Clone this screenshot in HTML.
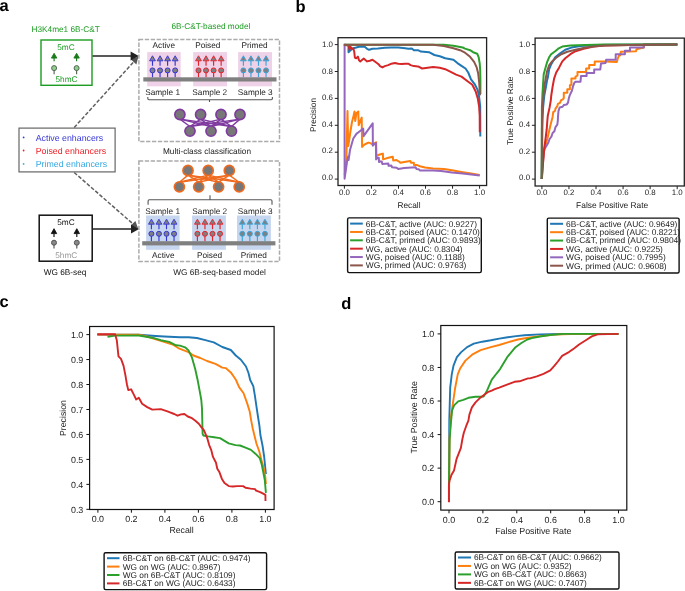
<!DOCTYPE html>
<html><head><meta charset="utf-8"><title>Figure</title>
<style>
html,body{margin:0;padding:0;background:#fff;}
body{width:685px;height:591px;overflow:hidden;font-family:"Liberation Sans",sans-serif;}
svg{display:block;font-family:"Liberation Sans",sans-serif;opacity:0.999;will-change:transform;}
text{text-rendering:geometricPrecision;}
</style></head><body>
<svg width="685" height="591" viewBox="0 0 685 591">
<text x="-0.5" y="10.6" font-size="16.5" fill="#000" text-anchor="start" font-weight="bold" >a</text>
<text x="31.5" y="32.2" font-size="8.25" fill="#1c9c22" text-anchor="start" >H3K4me1 6B-C&amp;T</text>
<rect x="41" y="40" width="51" height="45.3" fill="none" stroke="#1c9c22" stroke-width="1.4"/>
<text x="66" y="50" font-size="8.25" fill="#1c9c22" text-anchor="middle" >5mC</text>
<text x="66.5" y="82.2" font-size="8.25" fill="#1c9c22" text-anchor="middle" >5hmC</text>
<polygon points="54.1,53.3 51.4,58.1 56.8,58.1" fill="#1a7a1a" stroke="#1a7a1a" stroke-width="0.9" stroke-linejoin="miter"/>
<line x1="54.1" y1="58.1" x2="54.1" y2="61.3" stroke="#1a7a1a" stroke-width="1.15" />
<line x1="54.1" y1="68.1" x2="54.1" y2="74.2" stroke="#556655" stroke-width="1.15" />
<circle cx="54.1" cy="68.1" r="2.5" fill="#8fcf8f" stroke="#556655" stroke-width="1"/>
<polygon points="76.6,53.3 73.9,58.1 79.3,58.1" fill="#1a7a1a" stroke="#1a7a1a" stroke-width="0.9" stroke-linejoin="miter"/>
<line x1="76.6" y1="58.1" x2="76.6" y2="61.3" stroke="#1a7a1a" stroke-width="1.15" />
<line x1="76.6" y1="68.1" x2="76.6" y2="74.2" stroke="#556655" stroke-width="1.15" />
<circle cx="76.6" cy="68.1" r="2.5" fill="#8fcf8f" stroke="#556655" stroke-width="1"/>
<rect x="39.2" y="215.2" width="53" height="46" fill="none" stroke="#111" stroke-width="1.5"/>
<text x="66" y="224.8" font-size="8.25" fill="#111" text-anchor="middle" >5mC</text>
<text x="66.3" y="257.6" font-size="8.25" fill="#999" text-anchor="middle" >5hmC</text>
<polygon points="54,228.7 51.3,233.6 56.7,233.6" fill="#111" stroke="#111" stroke-width="0.9" stroke-linejoin="miter"/>
<line x1="54" y1="233.6" x2="54" y2="237" stroke="#111" stroke-width="1.15" />
<line x1="54" y1="242.7" x2="54" y2="248.6" stroke="#555" stroke-width="1.15" />
<circle cx="54" cy="242.7" r="2.5" fill="#888" stroke="#555" stroke-width="1"/>
<polygon points="76.8,228.7 74.1,233.6 79.5,233.6" fill="#111" stroke="#111" stroke-width="0.9" stroke-linejoin="miter"/>
<line x1="76.8" y1="233.6" x2="76.8" y2="237" stroke="#111" stroke-width="1.15" />
<line x1="76.8" y1="242.7" x2="76.8" y2="248.6" stroke="#555" stroke-width="1.15" />
<circle cx="76.8" cy="242.7" r="2.5" fill="#888" stroke="#555" stroke-width="1"/>
<text x="43.7" y="274.8" font-size="8.25" fill="#111" text-anchor="start" >WG 6B-seq</text>
<rect x="19" y="128.1" width="96.1" height="43.8" fill="#fff" stroke="#666" stroke-width="1.2"/>
<circle cx="23.6" cy="137.4" r="0.9" fill="#3838d8"/>
<text x="35.7" y="140.5" font-size="8.8" fill="#3838d8" text-anchor="start" >Active enhancers</text>
<circle cx="23.6" cy="150.5" r="0.9" fill="#ee1c24"/>
<text x="35.7" y="153.6" font-size="8.8" fill="#ee1c24" text-anchor="start" >Poised enhancers</text>
<circle cx="23.6" cy="163.9" r="0.9" fill="#35a8e0"/>
<text x="35.7" y="167" font-size="8.8" fill="#35a8e0" text-anchor="start" >Primed enhancers</text>
<line x1="74.2" y1="127.5" x2="135" y2="60.4" stroke="#606060" stroke-width="1.5" stroke-dasharray="3.8,1.8"/>
<polygon points="138.4,56.6 131,59.6 136.4,64.4" fill="#555"/>
<line x1="74.2" y1="172.5" x2="134.8" y2="225.5" stroke="#606060" stroke-width="1.5" stroke-dasharray="3.8,1.8"/>
<polygon points="138.1,228.4 135.4,220.9 131,225.3" fill="#555"/>
<line x1="92.6" y1="56.1" x2="132" y2="56.1" stroke="#222" stroke-width="1.5" />
<polygon points="138.8,56.1 130.6,51.5 130.6,60.6" fill="#222"/>
<line x1="92.6" y1="229" x2="132" y2="229" stroke="#222" stroke-width="1.5" />
<polygon points="139.1,229 131,224.6 131,233.4" fill="#222"/>
<text x="210.9" y="29.4" font-size="8.25" fill="#1c9c22" text-anchor="middle" >6B-C&amp;T-based model</text>
<rect x="138.9" y="39.6" width="140.6" height="102" fill="none" stroke="#ababab" stroke-width="1.5" stroke-dasharray="4.3,1.6"/>
<rect x="138.9" y="161" width="140.6" height="100.4" fill="none" stroke="#ababab" stroke-width="1.5" stroke-dasharray="4.3,1.6"/>
<text x="207" y="153.6" font-size="8.25" fill="#222" text-anchor="middle" >Multi-class classification</text>
<text x="219.5" y="274.6" font-size="8.25" fill="#222" text-anchor="middle" >WG 6B-seq-based model</text>
<rect x="147.2" y="52.1" width="33.5" height="34.2" fill="#efd2e7"/>
<rect x="193.2" y="52.1" width="33.8" height="34.2" fill="#efd2e7"/>
<rect x="238.1" y="52.1" width="33.9" height="34.2" fill="#efd2e7"/>
<polygon points="152.5,55.8 149.6,60.8 155.4,60.8" fill="#808080" stroke="#3535d5" stroke-width="0.9" stroke-linejoin="miter"/>
<line x1="152.5" y1="60.8" x2="152.5" y2="65.8" stroke="#3535d5" stroke-width="1.15" />
<line x1="152.5" y1="70.4" x2="152.5" y2="77.3" stroke="#3535d5" stroke-width="1.15" />
<circle cx="152.5" cy="70.4" r="2.5" fill="#808080" stroke="#3535d5" stroke-width="1"/>
<polygon points="160.05,55.8 157.15,60.8 162.95,60.8" fill="#808080" stroke="#3535d5" stroke-width="0.9" stroke-linejoin="miter"/>
<line x1="160.05" y1="60.8" x2="160.05" y2="65.8" stroke="#3535d5" stroke-width="1.15" />
<line x1="160.05" y1="70.4" x2="160.05" y2="77.3" stroke="#3535d5" stroke-width="1.15" />
<circle cx="160.05" cy="70.4" r="2.5" fill="#808080" stroke="#3535d5" stroke-width="1"/>
<polygon points="167.6,55.8 164.7,60.8 170.5,60.8" fill="#808080" stroke="#3535d5" stroke-width="0.9" stroke-linejoin="miter"/>
<line x1="167.6" y1="60.8" x2="167.6" y2="65.8" stroke="#3535d5" stroke-width="1.15" />
<line x1="167.6" y1="70.4" x2="167.6" y2="77.3" stroke="#3535d5" stroke-width="1.15" />
<circle cx="167.6" cy="70.4" r="2.5" fill="#808080" stroke="#3535d5" stroke-width="1"/>
<polygon points="175.15,55.8 172.25,60.8 178.05,60.8" fill="#808080" stroke="#3535d5" stroke-width="0.9" stroke-linejoin="miter"/>
<line x1="175.15" y1="60.8" x2="175.15" y2="65.8" stroke="#3535d5" stroke-width="1.15" />
<line x1="175.15" y1="70.4" x2="175.15" y2="77.3" stroke="#3535d5" stroke-width="1.15" />
<circle cx="175.15" cy="70.4" r="2.5" fill="#808080" stroke="#3535d5" stroke-width="1"/>
<polygon points="198.5,55.8 195.6,60.8 201.4,60.8" fill="#808080" stroke="#e8202a" stroke-width="0.9" stroke-linejoin="miter"/>
<line x1="198.5" y1="60.8" x2="198.5" y2="65.8" stroke="#e8202a" stroke-width="1.15" />
<line x1="198.5" y1="70.4" x2="198.5" y2="77.3" stroke="#e8202a" stroke-width="1.15" />
<circle cx="198.5" cy="70.4" r="2.5" fill="#808080" stroke="#e8202a" stroke-width="1"/>
<polygon points="206.05,55.8 203.15,60.8 208.95,60.8" fill="#808080" stroke="#e8202a" stroke-width="0.9" stroke-linejoin="miter"/>
<line x1="206.05" y1="60.8" x2="206.05" y2="65.8" stroke="#e8202a" stroke-width="1.15" />
<line x1="206.05" y1="70.4" x2="206.05" y2="77.3" stroke="#e8202a" stroke-width="1.15" />
<circle cx="206.05" cy="70.4" r="2.5" fill="#808080" stroke="#e8202a" stroke-width="1"/>
<polygon points="213.6,55.8 210.7,60.8 216.5,60.8" fill="#808080" stroke="#e8202a" stroke-width="0.9" stroke-linejoin="miter"/>
<line x1="213.6" y1="60.8" x2="213.6" y2="65.8" stroke="#e8202a" stroke-width="1.15" />
<line x1="213.6" y1="70.4" x2="213.6" y2="77.3" stroke="#e8202a" stroke-width="1.15" />
<circle cx="213.6" cy="70.4" r="2.5" fill="#808080" stroke="#e8202a" stroke-width="1"/>
<polygon points="221.15,55.8 218.25,60.8 224.05,60.8" fill="#808080" stroke="#e8202a" stroke-width="0.9" stroke-linejoin="miter"/>
<line x1="221.15" y1="60.8" x2="221.15" y2="65.8" stroke="#e8202a" stroke-width="1.15" />
<line x1="221.15" y1="70.4" x2="221.15" y2="77.3" stroke="#e8202a" stroke-width="1.15" />
<circle cx="221.15" cy="70.4" r="2.5" fill="#808080" stroke="#e8202a" stroke-width="1"/>
<polygon points="243.4,55.8 240.5,60.8 246.3,60.8" fill="#808080" stroke="#38a6dc" stroke-width="0.9" stroke-linejoin="miter"/>
<line x1="243.4" y1="60.8" x2="243.4" y2="65.8" stroke="#38a6dc" stroke-width="1.15" />
<line x1="243.4" y1="70.4" x2="243.4" y2="77.3" stroke="#38a6dc" stroke-width="1.15" />
<circle cx="243.4" cy="70.4" r="2.5" fill="#808080" stroke="#38a6dc" stroke-width="1"/>
<polygon points="250.95,55.8 248.05,60.8 253.85,60.8" fill="#808080" stroke="#38a6dc" stroke-width="0.9" stroke-linejoin="miter"/>
<line x1="250.95" y1="60.8" x2="250.95" y2="65.8" stroke="#38a6dc" stroke-width="1.15" />
<line x1="250.95" y1="70.4" x2="250.95" y2="77.3" stroke="#38a6dc" stroke-width="1.15" />
<circle cx="250.95" cy="70.4" r="2.5" fill="#808080" stroke="#38a6dc" stroke-width="1"/>
<polygon points="258.5,55.8 255.6,60.8 261.4,60.8" fill="#808080" stroke="#38a6dc" stroke-width="0.9" stroke-linejoin="miter"/>
<line x1="258.5" y1="60.8" x2="258.5" y2="65.8" stroke="#38a6dc" stroke-width="1.15" />
<line x1="258.5" y1="70.4" x2="258.5" y2="77.3" stroke="#38a6dc" stroke-width="1.15" />
<circle cx="258.5" cy="70.4" r="2.5" fill="#808080" stroke="#38a6dc" stroke-width="1"/>
<polygon points="266.05,55.8 263.15,60.8 268.95,60.8" fill="#808080" stroke="#38a6dc" stroke-width="0.9" stroke-linejoin="miter"/>
<line x1="266.05" y1="60.8" x2="266.05" y2="65.8" stroke="#38a6dc" stroke-width="1.15" />
<line x1="266.05" y1="70.4" x2="266.05" y2="77.3" stroke="#38a6dc" stroke-width="1.15" />
<circle cx="266.05" cy="70.4" r="2.5" fill="#808080" stroke="#38a6dc" stroke-width="1"/>
<rect x="143.3" y="77.3" width="133.2" height="4.2" fill="#808080"/>
<text x="163.8" y="48.1" font-size="8.25" fill="#222" text-anchor="middle" >Active</text>
<text x="207.8" y="48.1" font-size="8.25" fill="#222" text-anchor="middle" >Poised</text>
<text x="254.5" y="48.1" font-size="8.25" fill="#222" text-anchor="middle" >Primed</text>
<text x="162.6" y="94.5" font-size="8.25" fill="#222" text-anchor="middle" >Sample 1</text>
<text x="209.8" y="94.5" font-size="8.25" fill="#222" text-anchor="middle" >Sample 2</text>
<text x="255.3" y="94.5" font-size="8.25" fill="#222" text-anchor="middle" >Sample 3</text>
<path d="M147.8,97 L147.8,98.5 Q147.8,99.7 149,99.7 L271.2,99.7 Q272.4,99.7 272.4,98.5 L272.4,97 M209.5,99.7 L209.5,101.9" fill="none" stroke="#555" stroke-width="1.1"/>
<line x1="179.9" y1="119.1" x2="190" y2="126.5" stroke="#7f3a9f" stroke-width="1.4" />
<line x1="179.9" y1="119.1" x2="211" y2="126.5" stroke="#7f3a9f" stroke-width="1.4" />
<line x1="179.9" y1="119.1" x2="231.5" y2="126.5" stroke="#7f3a9f" stroke-width="1.4" />
<line x1="200.6" y1="119.1" x2="190" y2="126.5" stroke="#7f3a9f" stroke-width="1.4" />
<line x1="200.6" y1="119.1" x2="211" y2="126.5" stroke="#7f3a9f" stroke-width="1.4" />
<line x1="200.6" y1="119.1" x2="231.5" y2="126.5" stroke="#7f3a9f" stroke-width="1.4" />
<line x1="221" y1="119.1" x2="190" y2="126.5" stroke="#7f3a9f" stroke-width="1.4" />
<line x1="221" y1="119.1" x2="211" y2="126.5" stroke="#7f3a9f" stroke-width="1.4" />
<line x1="221" y1="119.1" x2="231.5" y2="126.5" stroke="#7f3a9f" stroke-width="1.4" />
<line x1="240" y1="119.1" x2="190" y2="126.5" stroke="#7f3a9f" stroke-width="1.4" />
<line x1="240" y1="119.1" x2="211" y2="126.5" stroke="#7f3a9f" stroke-width="1.4" />
<line x1="240" y1="119.1" x2="231.5" y2="126.5" stroke="#7f3a9f" stroke-width="1.4" />
<circle cx="179.9" cy="114.5" r="5.1" fill="#777" stroke="#7f3a9f" stroke-width="1.6"/>
<circle cx="200.6" cy="114.5" r="5.1" fill="#777" stroke="#7f3a9f" stroke-width="1.6"/>
<circle cx="221" cy="114.5" r="5.1" fill="#777" stroke="#7f3a9f" stroke-width="1.6"/>
<circle cx="240" cy="114.5" r="5.1" fill="#777" stroke="#7f3a9f" stroke-width="1.6"/>
<circle cx="190" cy="131.1" r="5.1" fill="#777" stroke="#7f3a9f" stroke-width="1.6"/>
<circle cx="211" cy="131.1" r="5.1" fill="#777" stroke="#7f3a9f" stroke-width="1.6"/>
<circle cx="231.5" cy="131.1" r="5.1" fill="#777" stroke="#7f3a9f" stroke-width="1.6"/>
<rect x="146.1" y="215.5" width="33.5" height="34.3" fill="#c6d6ef"/>
<rect x="192.1" y="215.5" width="33.8" height="34.3" fill="#c6d6ef"/>
<rect x="237" y="215.5" width="33.9" height="34.3" fill="#c6d6ef"/>
<polygon points="151.4,219.2 148.5,224.2 154.3,224.2" fill="#808080" stroke="#3535d5" stroke-width="0.9" stroke-linejoin="miter"/>
<line x1="151.4" y1="224.2" x2="151.4" y2="229.2" stroke="#3535d5" stroke-width="1.15" />
<line x1="151.4" y1="233.8" x2="151.4" y2="241.2" stroke="#3535d5" stroke-width="1.15" />
<circle cx="151.4" cy="233.8" r="2.5" fill="#808080" stroke="#3535d5" stroke-width="1"/>
<polygon points="158.95,219.2 156.05,224.2 161.85,224.2" fill="#808080" stroke="#3535d5" stroke-width="0.9" stroke-linejoin="miter"/>
<line x1="158.95" y1="224.2" x2="158.95" y2="229.2" stroke="#3535d5" stroke-width="1.15" />
<line x1="158.95" y1="233.8" x2="158.95" y2="241.2" stroke="#3535d5" stroke-width="1.15" />
<circle cx="158.95" cy="233.8" r="2.5" fill="#808080" stroke="#3535d5" stroke-width="1"/>
<polygon points="166.5,219.2 163.6,224.2 169.4,224.2" fill="#808080" stroke="#3535d5" stroke-width="0.9" stroke-linejoin="miter"/>
<line x1="166.5" y1="224.2" x2="166.5" y2="229.2" stroke="#3535d5" stroke-width="1.15" />
<line x1="166.5" y1="233.8" x2="166.5" y2="241.2" stroke="#3535d5" stroke-width="1.15" />
<circle cx="166.5" cy="233.8" r="2.5" fill="#808080" stroke="#3535d5" stroke-width="1"/>
<polygon points="174.05,219.2 171.15,224.2 176.95,224.2" fill="#808080" stroke="#3535d5" stroke-width="0.9" stroke-linejoin="miter"/>
<line x1="174.05" y1="224.2" x2="174.05" y2="229.2" stroke="#3535d5" stroke-width="1.15" />
<line x1="174.05" y1="233.8" x2="174.05" y2="241.2" stroke="#3535d5" stroke-width="1.15" />
<circle cx="174.05" cy="233.8" r="2.5" fill="#808080" stroke="#3535d5" stroke-width="1"/>
<polygon points="197.4,219.2 194.5,224.2 200.3,224.2" fill="#808080" stroke="#e8202a" stroke-width="0.9" stroke-linejoin="miter"/>
<line x1="197.4" y1="224.2" x2="197.4" y2="229.2" stroke="#e8202a" stroke-width="1.15" />
<line x1="197.4" y1="233.8" x2="197.4" y2="241.2" stroke="#e8202a" stroke-width="1.15" />
<circle cx="197.4" cy="233.8" r="2.5" fill="#808080" stroke="#e8202a" stroke-width="1"/>
<polygon points="204.95,219.2 202.05,224.2 207.85,224.2" fill="#808080" stroke="#e8202a" stroke-width="0.9" stroke-linejoin="miter"/>
<line x1="204.95" y1="224.2" x2="204.95" y2="229.2" stroke="#e8202a" stroke-width="1.15" />
<line x1="204.95" y1="233.8" x2="204.95" y2="241.2" stroke="#e8202a" stroke-width="1.15" />
<circle cx="204.95" cy="233.8" r="2.5" fill="#808080" stroke="#e8202a" stroke-width="1"/>
<polygon points="212.5,219.2 209.6,224.2 215.4,224.2" fill="#808080" stroke="#e8202a" stroke-width="0.9" stroke-linejoin="miter"/>
<line x1="212.5" y1="224.2" x2="212.5" y2="229.2" stroke="#e8202a" stroke-width="1.15" />
<line x1="212.5" y1="233.8" x2="212.5" y2="241.2" stroke="#e8202a" stroke-width="1.15" />
<circle cx="212.5" cy="233.8" r="2.5" fill="#808080" stroke="#e8202a" stroke-width="1"/>
<polygon points="220.05,219.2 217.15,224.2 222.95,224.2" fill="#808080" stroke="#e8202a" stroke-width="0.9" stroke-linejoin="miter"/>
<line x1="220.05" y1="224.2" x2="220.05" y2="229.2" stroke="#e8202a" stroke-width="1.15" />
<line x1="220.05" y1="233.8" x2="220.05" y2="241.2" stroke="#e8202a" stroke-width="1.15" />
<circle cx="220.05" cy="233.8" r="2.5" fill="#808080" stroke="#e8202a" stroke-width="1"/>
<polygon points="242.3,219.2 239.4,224.2 245.2,224.2" fill="#808080" stroke="#38a6dc" stroke-width="0.9" stroke-linejoin="miter"/>
<line x1="242.3" y1="224.2" x2="242.3" y2="229.2" stroke="#38a6dc" stroke-width="1.15" />
<line x1="242.3" y1="233.8" x2="242.3" y2="241.2" stroke="#38a6dc" stroke-width="1.15" />
<circle cx="242.3" cy="233.8" r="2.5" fill="#808080" stroke="#38a6dc" stroke-width="1"/>
<polygon points="249.85,219.2 246.95,224.2 252.75,224.2" fill="#808080" stroke="#38a6dc" stroke-width="0.9" stroke-linejoin="miter"/>
<line x1="249.85" y1="224.2" x2="249.85" y2="229.2" stroke="#38a6dc" stroke-width="1.15" />
<line x1="249.85" y1="233.8" x2="249.85" y2="241.2" stroke="#38a6dc" stroke-width="1.15" />
<circle cx="249.85" cy="233.8" r="2.5" fill="#808080" stroke="#38a6dc" stroke-width="1"/>
<polygon points="257.4,219.2 254.5,224.2 260.3,224.2" fill="#808080" stroke="#38a6dc" stroke-width="0.9" stroke-linejoin="miter"/>
<line x1="257.4" y1="224.2" x2="257.4" y2="229.2" stroke="#38a6dc" stroke-width="1.15" />
<line x1="257.4" y1="233.8" x2="257.4" y2="241.2" stroke="#38a6dc" stroke-width="1.15" />
<circle cx="257.4" cy="233.8" r="2.5" fill="#808080" stroke="#38a6dc" stroke-width="1"/>
<polygon points="264.95,219.2 262.05,224.2 267.85,224.2" fill="#808080" stroke="#38a6dc" stroke-width="0.9" stroke-linejoin="miter"/>
<line x1="264.95" y1="224.2" x2="264.95" y2="229.2" stroke="#38a6dc" stroke-width="1.15" />
<line x1="264.95" y1="233.8" x2="264.95" y2="241.2" stroke="#38a6dc" stroke-width="1.15" />
<circle cx="264.95" cy="233.8" r="2.5" fill="#808080" stroke="#38a6dc" stroke-width="1"/>
<rect x="142.2" y="241.2" width="133.2" height="4.2" fill="#808080"/>
<text x="162.6" y="214" font-size="8.25" fill="#222" text-anchor="middle" >Sample 1</text>
<text x="209.8" y="214" font-size="8.25" fill="#222" text-anchor="middle" >Sample 2</text>
<text x="255.3" y="214" font-size="8.25" fill="#222" text-anchor="middle" >Sample 3</text>
<text x="163.3" y="258" font-size="8.25" fill="#222" text-anchor="middle" >Active</text>
<text x="209.5" y="258" font-size="8.25" fill="#222" text-anchor="middle" >Poised</text>
<text x="253.8" y="258" font-size="8.25" fill="#222" text-anchor="middle" >Primed</text>
<path d="M148.1,204.7 L148.1,201 Q148.1,199.8 149.3,199.8 L270.8,199.8 Q272,199.8 272,201 L272,204.7 M210,199.8 L210,195.2" fill="none" stroke="#555" stroke-width="1.1"/>
<line x1="188" y1="175.1" x2="179.4" y2="182.2" stroke="#f06a1e" stroke-width="1.4" />
<line x1="188" y1="175.1" x2="198.7" y2="182.2" stroke="#f06a1e" stroke-width="1.4" />
<line x1="188" y1="175.1" x2="218.6" y2="182.2" stroke="#f06a1e" stroke-width="1.4" />
<line x1="188" y1="175.1" x2="239.2" y2="182.2" stroke="#f06a1e" stroke-width="1.4" />
<line x1="208.2" y1="175.1" x2="179.4" y2="182.2" stroke="#f06a1e" stroke-width="1.4" />
<line x1="208.2" y1="175.1" x2="198.7" y2="182.2" stroke="#f06a1e" stroke-width="1.4" />
<line x1="208.2" y1="175.1" x2="218.6" y2="182.2" stroke="#f06a1e" stroke-width="1.4" />
<line x1="208.2" y1="175.1" x2="239.2" y2="182.2" stroke="#f06a1e" stroke-width="1.4" />
<line x1="229.3" y1="175.1" x2="179.4" y2="182.2" stroke="#f06a1e" stroke-width="1.4" />
<line x1="229.3" y1="175.1" x2="198.7" y2="182.2" stroke="#f06a1e" stroke-width="1.4" />
<line x1="229.3" y1="175.1" x2="218.6" y2="182.2" stroke="#f06a1e" stroke-width="1.4" />
<line x1="229.3" y1="175.1" x2="239.2" y2="182.2" stroke="#f06a1e" stroke-width="1.4" />
<circle cx="188" cy="170.5" r="5.1" fill="#777" stroke="#f06a1e" stroke-width="1.6"/>
<circle cx="208.2" cy="170.5" r="5.1" fill="#777" stroke="#f06a1e" stroke-width="1.6"/>
<circle cx="229.3" cy="170.5" r="5.1" fill="#777" stroke="#f06a1e" stroke-width="1.6"/>
<circle cx="179.4" cy="186.8" r="5.1" fill="#777" stroke="#f06a1e" stroke-width="1.6"/>
<circle cx="198.7" cy="186.8" r="5.1" fill="#777" stroke="#f06a1e" stroke-width="1.6"/>
<circle cx="218.6" cy="186.8" r="5.1" fill="#777" stroke="#f06a1e" stroke-width="1.6"/>
<circle cx="239.2" cy="186.8" r="5.1" fill="#777" stroke="#f06a1e" stroke-width="1.6"/>
<text x="295.4" y="11.8" font-size="16.5" fill="#000" text-anchor="start" font-weight="bold" >b</text>
<rect x="338" y="37.7" width="148.6" height="147.8" fill="none" stroke="#222" stroke-width="1.3"/>
<line x1="344.4" y1="185.5" x2="344.4" y2="188.7" stroke="#222" stroke-width="1" />
<text x="344.4" y="195.3" font-size="7.9" fill="#222" text-anchor="middle" >0.0</text>
<line x1="371.44" y1="185.5" x2="371.44" y2="188.7" stroke="#222" stroke-width="1" />
<text x="371.44" y="195.3" font-size="7.9" fill="#222" text-anchor="middle" >0.2</text>
<line x1="398.48" y1="185.5" x2="398.48" y2="188.7" stroke="#222" stroke-width="1" />
<text x="398.48" y="195.3" font-size="7.9" fill="#222" text-anchor="middle" >0.4</text>
<line x1="425.52" y1="185.5" x2="425.52" y2="188.7" stroke="#222" stroke-width="1" />
<text x="425.52" y="195.3" font-size="7.9" fill="#222" text-anchor="middle" >0.6</text>
<line x1="452.56" y1="185.5" x2="452.56" y2="188.7" stroke="#222" stroke-width="1" />
<text x="452.56" y="195.3" font-size="7.9" fill="#222" text-anchor="middle" >0.8</text>
<line x1="479.6" y1="185.5" x2="479.6" y2="188.7" stroke="#222" stroke-width="1" />
<text x="479.6" y="195.3" font-size="7.9" fill="#222" text-anchor="middle" >1.0</text>
<line x1="334.8" y1="179.1" x2="338" y2="179.1" stroke="#222" stroke-width="1" />
<text x="333" y="179.93" font-size="7.9" fill="#222" text-anchor="end" >0.0</text>
<line x1="334.8" y1="152.2" x2="338" y2="152.2" stroke="#222" stroke-width="1" />
<text x="333" y="153.41" font-size="7.9" fill="#222" text-anchor="end" >0.2</text>
<line x1="334.8" y1="125.3" x2="338" y2="125.3" stroke="#222" stroke-width="1" />
<text x="333" y="126.89" font-size="7.9" fill="#222" text-anchor="end" >0.4</text>
<line x1="334.8" y1="98.4" x2="338" y2="98.4" stroke="#222" stroke-width="1" />
<text x="333" y="100.37" font-size="7.9" fill="#222" text-anchor="end" >0.6</text>
<line x1="334.8" y1="71.5" x2="338" y2="71.5" stroke="#222" stroke-width="1" />
<text x="333" y="73.85" font-size="7.9" fill="#222" text-anchor="end" >0.8</text>
<line x1="334.8" y1="44.6" x2="338" y2="44.6" stroke="#222" stroke-width="1" />
<text x="333" y="47.33" font-size="7.9" fill="#222" text-anchor="end" >1.0</text>
<text x="409" y="208.1" font-size="8.3" fill="#222" text-anchor="middle" >Recall</text>
<text x="0" y="0" font-size="8.3" fill="#222" text-anchor="middle" transform="translate(316.3,115) rotate(-90)">Precision</text>
<rect x="535.1" y="38.1" width="149.2" height="147.9" fill="none" stroke="#222" stroke-width="1.3"/>
<line x1="541.9" y1="186" x2="541.9" y2="189.2" stroke="#222" stroke-width="1" />
<text x="541.9" y="195.3" font-size="7.9" fill="#222" text-anchor="middle" >0.0</text>
<line x1="568.96" y1="186" x2="568.96" y2="189.2" stroke="#222" stroke-width="1" />
<text x="568.96" y="195.3" font-size="7.9" fill="#222" text-anchor="middle" >0.2</text>
<line x1="596.02" y1="186" x2="596.02" y2="189.2" stroke="#222" stroke-width="1" />
<text x="596.02" y="195.3" font-size="7.9" fill="#222" text-anchor="middle" >0.4</text>
<line x1="623.08" y1="186" x2="623.08" y2="189.2" stroke="#222" stroke-width="1" />
<text x="623.08" y="195.3" font-size="7.9" fill="#222" text-anchor="middle" >0.6</text>
<line x1="650.14" y1="186" x2="650.14" y2="189.2" stroke="#222" stroke-width="1" />
<text x="650.14" y="195.3" font-size="7.9" fill="#222" text-anchor="middle" >0.8</text>
<line x1="677.2" y1="186" x2="677.2" y2="189.2" stroke="#222" stroke-width="1" />
<text x="677.2" y="195.3" font-size="7.9" fill="#222" text-anchor="middle" >1.0</text>
<line x1="531.9" y1="179.1" x2="535.1" y2="179.1" stroke="#222" stroke-width="1" />
<text x="530.1" y="180.13" font-size="7.9" fill="#222" text-anchor="end" >0.0</text>
<line x1="531.9" y1="152.2" x2="535.1" y2="152.2" stroke="#222" stroke-width="1" />
<text x="530.1" y="153.59" font-size="7.9" fill="#222" text-anchor="end" >0.2</text>
<line x1="531.9" y1="125.3" x2="535.1" y2="125.3" stroke="#222" stroke-width="1" />
<text x="530.1" y="127.05" font-size="7.9" fill="#222" text-anchor="end" >0.4</text>
<line x1="531.9" y1="98.4" x2="535.1" y2="98.4" stroke="#222" stroke-width="1" />
<text x="530.1" y="100.51" font-size="7.9" fill="#222" text-anchor="end" >0.6</text>
<line x1="531.9" y1="71.5" x2="535.1" y2="71.5" stroke="#222" stroke-width="1" />
<text x="530.1" y="73.97" font-size="7.9" fill="#222" text-anchor="end" >0.8</text>
<line x1="531.9" y1="44.6" x2="535.1" y2="44.6" stroke="#222" stroke-width="1" />
<text x="530.1" y="47.43" font-size="7.9" fill="#222" text-anchor="end" >1.0</text>
<text x="612.2" y="208" font-size="8.4" fill="#222" text-anchor="middle" >False Positive Rate</text>
<text x="0" y="0" font-size="8.4" fill="#222" text-anchor="middle" transform="translate(513,110.8) rotate(-90)">True Positive Rate</text>
<rect x="347.6" y="217.9" width="133.7" height="54.7" rx="1.5" fill="#fff" stroke="#111" stroke-width="1.4"/>
<line x1="350.1" y1="223.6" x2="362.8" y2="223.6" stroke="#1f77b4" stroke-width="2.0" />
<text x="365.8" y="226.5" font-size="8.4" fill="#222" text-anchor="start" >6B-C&amp;T, active (AUC: 0.9227)</text>
<line x1="350.1" y1="231.96" x2="362.8" y2="231.96" stroke="#ff7f0e" stroke-width="2.0" />
<text x="365.8" y="234.86" font-size="8.4" fill="#222" text-anchor="start" >6B-C&amp;T, poised (AUC: 0.1470)</text>
<line x1="350.1" y1="240.32" x2="362.8" y2="240.32" stroke="#2ca02c" stroke-width="2.0" />
<text x="365.8" y="243.22" font-size="8.4" fill="#222" text-anchor="start" >6B-C&amp;T, primed (AUC: 0.9893)</text>
<line x1="350.1" y1="248.68" x2="362.8" y2="248.68" stroke="#d62728" stroke-width="2.0" />
<text x="365.8" y="251.58" font-size="8.4" fill="#222" text-anchor="start" >WG, active (AUC: 0.8304)</text>
<line x1="350.1" y1="257.04" x2="362.8" y2="257.04" stroke="#9467bd" stroke-width="2.0" />
<text x="365.8" y="259.94" font-size="8.4" fill="#222" text-anchor="start" >WG, poised (AUC: 0.1188)</text>
<line x1="350.1" y1="265.4" x2="362.8" y2="265.4" stroke="#8c564b" stroke-width="2.0" />
<text x="365.8" y="268.3" font-size="8.4" fill="#222" text-anchor="start" >WG, primed (AUC: 0.9763)</text>
<rect x="547.3" y="218.1" width="131.8" height="54.9" rx="1.5" fill="#fff" stroke="#111" stroke-width="1.4"/>
<line x1="550.1" y1="223.8" x2="563.1" y2="223.8" stroke="#1f77b4" stroke-width="2.0" />
<text x="566.1" y="226.7" font-size="8.4" fill="#222" text-anchor="start" >6B-C&amp;T, active (AUC: 0.9649)</text>
<line x1="550.1" y1="232.18" x2="563.1" y2="232.18" stroke="#ff7f0e" stroke-width="2.0" />
<text x="566.1" y="235.08" font-size="8.4" fill="#222" text-anchor="start" >6B-C&amp;T, poised (AUC: 0.8221)</text>
<line x1="550.1" y1="240.56" x2="563.1" y2="240.56" stroke="#2ca02c" stroke-width="2.0" />
<text x="566.1" y="243.46" font-size="8.4" fill="#222" text-anchor="start" >6B-C&amp;T, primed (AUC: 0.9804)</text>
<line x1="550.1" y1="248.94" x2="563.1" y2="248.94" stroke="#d62728" stroke-width="2.0" />
<text x="566.1" y="251.84" font-size="8.4" fill="#222" text-anchor="start" >WG, active (AUC: 0.9225)</text>
<line x1="550.1" y1="257.32" x2="563.1" y2="257.32" stroke="#9467bd" stroke-width="2.0" />
<text x="566.1" y="260.22" font-size="8.4" fill="#222" text-anchor="start" >WG, poised (AUC: 0.7995)</text>
<line x1="550.1" y1="265.7" x2="563.1" y2="265.7" stroke="#8c564b" stroke-width="2.0" />
<text x="566.1" y="268.6" font-size="8.4" fill="#222" text-anchor="start" >WG, primed (AUC: 0.9608)</text>
<polyline points="344.7,175 346.4,157.8 347.5,111.1 348.2,146 349.2,140 350.5,131 352,122 353.5,116 354.5,111.5 355.2,121 356.5,113 358.3,111.5 358.7,125.2 360,122 361.7,117.6 362.1,146.9 364.4,144.6 366.5,143.5 368.5,142.6 370.5,143.1 372.7,144.6 374.6,143.4 376.1,142.2 376.5,156.3 377.6,155.2 381.4,154 382.9,153.6 383.1,159.4 388.3,157.8 392.8,156.7 393.2,160.5 396.6,160.1 399.7,162 400.4,162.8 404.2,162 410.3,160.9 411.1,162.8 413.8,162.8 414.1,165.1 417.2,165.1 420,166.2 425,167.5 433.1,168.5 443.9,168.9 452,170.2 462.8,172.2 471,173.6 479.7,175" fill="none" stroke="#ff7f0e" stroke-width="2.0" stroke-linejoin="round" stroke-linecap="butt" />
<polyline points="344.6,44.6 344.6,178.7 347.1,161.3 348.2,156.6 348.6,160 350,150 353.3,138.5 356.4,133.9 359.8,131.3 363.2,128.6 363.6,136.2 372.7,123.3 372.9,145.7 374.2,144.1 375.9,143 376.1,159.4 377.6,157.8 378.8,157.8 379,162 380.7,161.3 381.8,161.6 382.2,163.9 388.3,163.5 388.6,165.8 391.3,165.4 392.1,167.3 396.6,167.7 398.2,168.9 404.2,168.1 415.7,167.3 416.4,168.9 418.7,169.2 420,170.4 433.1,170.4 441.2,170.9 452,172.5 462.8,173.6 479.7,175.6" fill="none" stroke="#9467bd" stroke-width="2.0" stroke-linejoin="round" stroke-linecap="butt" />
<polyline points="344.4,44.8 348.5,45.4 348.5,52.2 350.2,50.5 353.5,48.2 359,46.8 364.4,46.5 367.1,48.8 369.1,49.8 372.5,48.8 378,48.5 384.8,47.8 391.5,47.5 398.3,47.5 405.1,48.2 408.5,48.8 411.8,48.5 413.9,50.2 418,50.2 420.9,51.6 429,52.2 434.4,55 439.8,56.3 445.2,58.3 453.4,59.7 457.4,63.1 461.5,65.8 465.5,68.5 468.2,72.5 471,79.3 475,84.7 477.7,90.1 479.1,96.9 480.2,106.4 480.3,136.4" fill="none" stroke="#1f77b4" stroke-width="2.0" stroke-linejoin="round" stroke-linecap="butt" />
<polyline points="344.4,44.8 348.8,45.4 349.5,49.5 350.5,46.8 351.8,48.8 353.2,48.2 354.2,51.5 354.9,57.6 356.2,58.3 357.9,56.6 359,60.3 360.3,61.4 363.7,58.6 367.1,61.4 369.8,60.7 372.5,59.7 375.2,61.7 377.9,63.7 378.7,64.4 380,66.1 382.4,67.4 384.8,66.1 388.2,65.1 391.5,63.7 394.9,63 398.3,63.7 401.7,64.1 405.1,63.7 408.5,63.7 410.5,65.1 413.9,66.1 418,66.4 422.2,68.5 427.7,67.8 433.1,67.1 439.8,67.8 445.2,69.2 450.7,71.9 456.1,74.6 461.5,76.6 466.9,80.7 472.3,84.7 475.7,91.5 477.7,98.2 479.1,106.4 479.7,115.8 479.8,132.3" fill="none" stroke="#d62728" stroke-width="2.0" stroke-linejoin="round" stroke-linecap="butt" />
<polyline points="344.4,44.8 443.9,44.8 453.4,45.7 462.8,47.5 465,48.6 470.1,50.2 473.1,52.2 477.2,53.7 478.7,57.3 479.7,63.4 480.2,70.5 480.4,80.7 480.4,94" fill="none" stroke="#2ca02c" stroke-width="2.0" stroke-linejoin="round" stroke-linecap="butt" />
<polyline points="343.6,44.8 433,44.8 443.9,46.1 453.4,48.2 460.1,50.2 465,52.7 470.1,56.8 474.1,61.8 476.7,67.4 478.2,73.5 479.2,82.7 480,95.4" fill="none" stroke="#8c564b" stroke-width="2.0" stroke-linejoin="round" stroke-linecap="butt" />
<polyline points="541.7,179 543.7,149.6 545.5,144.9 547.3,139 549,131.8 550.2,126.3 551.4,121.6 552.6,116.9 553.2,112.1 555,110.9 555.5,108.6 557.3,106.2 557.9,103.8 560.3,102.6 560.9,100.3 563.2,99.1 563.8,98 563.8,92.8 567.3,92.8 567.3,89.3 569.9,89.3 569.9,85.2 571.4,84.7 571.4,78.6 575.5,78.6 575.5,76.6 577.5,75.6 577.5,72 586.1,72 586.1,68.5 589.2,68.5 589.2,64.9 594.7,64.9 594.7,61.6 605,61.6 616.8,61.9 617.8,58.3 618.8,55.8 620.3,55.3 620.8,51.7 636,51.2 636.5,49.2 643.7,47.6 643.7,44.6 677.3,44.6" fill="none" stroke="#ff7f0e" stroke-width="2.0" stroke-linejoin="round" stroke-linecap="butt" />
<polyline points="541.7,179 543.7,152 544.9,148.4 546.7,145.5 548.4,142.5 549.6,139 551.4,136.6 552.6,133 554.4,131.3 555.5,127.1 557.3,124.7 557.9,120 557.9,118 558.5,110.9 559.7,107.4 562.6,106.8 563.8,105 566.8,104.4 568,102.6 568.9,98 569.9,94.9 571.9,90.8 572.9,86.7 574.4,82.7 575.5,81.7 580.5,81.7 581,76.1 586.6,76.1 586.6,73 594.2,73 594.2,69.5 600.3,69.5 601,63.4 605.6,62.9 606.1,59.8 615.7,59.8 615.7,54.2 624.9,54.2 624.9,50.7 630,50.7 630,47.6 643.7,47.6 644.2,44.6 677.3,44.6" fill="none" stroke="#9467bd" stroke-width="2.0" stroke-linejoin="round" stroke-linecap="butt" />
<polyline points="541.9,179 542.5,169.7 543.7,155.5 544.3,148.4 545.5,139 546.7,129.5 547.4,120 547.8,115.7 549.6,107.4 550.8,100.3 551.2,96 552.6,86.7 554.1,78.6 556.2,72.5 559.2,67.4 562.3,61.4 565.3,58.3 570.4,54.2 575.5,51.2 583.6,48.7 593.7,46.6 605,45.6 630,44.9 677.3,44.6" fill="none" stroke="#d62728" stroke-width="2.0" stroke-linejoin="round" stroke-linecap="butt" />
<polyline points="541.7,179 542.5,119.2 543.1,107.4 544.3,95.5 546.1,86.1 547,80.6 547.8,77.8 549.1,69.5 551.1,64.4 555.2,57.3 560.2,53.2 565.3,49.7 571.4,47.6 580.5,46.1 595.8,45.1 620,44.7 677.3,44.6" fill="none" stroke="#1f77b4" stroke-width="2.0" stroke-linejoin="round" stroke-linecap="butt" />
<polyline points="541.7,179 541.9,107.4 542.5,93.2 543.1,83.7 543.7,74.2 545,69.5 547,62.4 549.1,57.3 551.1,54.2 555.2,51.2 558.2,48.7 562.3,46.6 570.4,45.6 585.6,44.9 605,44.6 677.3,44.6" fill="none" stroke="#2ca02c" stroke-width="2.0" stroke-linejoin="round" stroke-linecap="butt" />
<polyline points="541.7,179 541.9,129.9 542.5,107.4 543.7,93.2 545,82.7 547,71.5 549.1,65.4 552.1,61.4 556.2,57.8 561.2,54.2 567.3,51.7 575.5,49.7 585.6,47.6 595.8,46.3 605,45.6 630,45 677.3,44.6" fill="none" stroke="#8c564b" stroke-width="2.0" stroke-linejoin="round" stroke-linecap="butt" />
<text x="-0.4" y="307.4" font-size="16.5" fill="#000" text-anchor="start" font-weight="bold" >c</text>
<rect x="89.6" y="326.5" width="184.5" height="183" fill="none" stroke="#111" stroke-width="1.2"/>
<line x1="97.9" y1="509.5" x2="97.9" y2="512.7" stroke="#111" stroke-width="1" />
<text x="97.9" y="521.7" font-size="8.9" fill="#222" text-anchor="middle" >0.0</text>
<line x1="131.4" y1="509.5" x2="131.4" y2="512.7" stroke="#111" stroke-width="1" />
<text x="131.4" y="521.7" font-size="8.9" fill="#222" text-anchor="middle" >0.2</text>
<line x1="164.9" y1="509.5" x2="164.9" y2="512.7" stroke="#111" stroke-width="1" />
<text x="164.9" y="521.7" font-size="8.9" fill="#222" text-anchor="middle" >0.4</text>
<line x1="198.4" y1="509.5" x2="198.4" y2="512.7" stroke="#111" stroke-width="1" />
<text x="198.4" y="521.7" font-size="8.9" fill="#222" text-anchor="middle" >0.6</text>
<line x1="231.9" y1="509.5" x2="231.9" y2="512.7" stroke="#111" stroke-width="1" />
<text x="231.9" y="521.7" font-size="8.9" fill="#222" text-anchor="middle" >0.8</text>
<line x1="265.4" y1="509.5" x2="265.4" y2="512.7" stroke="#111" stroke-width="1" />
<text x="265.4" y="521.7" font-size="8.9" fill="#222" text-anchor="middle" >1.0</text>
<line x1="86.4" y1="509.32" x2="89.6" y2="509.32" stroke="#111" stroke-width="1" />
<text x="83.3" y="512.51" font-size="8.9" fill="#222" text-anchor="end" >0.3</text>
<line x1="86.4" y1="484.36" x2="89.6" y2="484.36" stroke="#111" stroke-width="1" />
<text x="83.3" y="487.55" font-size="8.9" fill="#222" text-anchor="end" >0.4</text>
<line x1="86.4" y1="459.4" x2="89.6" y2="459.4" stroke="#111" stroke-width="1" />
<text x="83.3" y="462.59" font-size="8.9" fill="#222" text-anchor="end" >0.5</text>
<line x1="86.4" y1="434.44" x2="89.6" y2="434.44" stroke="#111" stroke-width="1" />
<text x="83.3" y="437.63" font-size="8.9" fill="#222" text-anchor="end" >0.6</text>
<line x1="86.4" y1="409.48" x2="89.6" y2="409.48" stroke="#111" stroke-width="1" />
<text x="83.3" y="412.67" font-size="8.9" fill="#222" text-anchor="end" >0.7</text>
<line x1="86.4" y1="384.52" x2="89.6" y2="384.52" stroke="#111" stroke-width="1" />
<text x="83.3" y="387.71" font-size="8.9" fill="#222" text-anchor="end" >0.8</text>
<line x1="86.4" y1="359.56" x2="89.6" y2="359.56" stroke="#111" stroke-width="1" />
<text x="83.3" y="362.75" font-size="8.9" fill="#222" text-anchor="end" >0.9</text>
<line x1="86.4" y1="334.6" x2="89.6" y2="334.6" stroke="#111" stroke-width="1" />
<text x="83.3" y="337.79" font-size="8.9" fill="#222" text-anchor="end" >1.0</text>
<text x="181.6" y="533.2" font-size="8.75" fill="#222" text-anchor="middle" >Recall</text>
<text x="0" y="0" font-size="8.75" fill="#222" text-anchor="middle" transform="translate(66,418) rotate(-90)">Precision</text>
<polyline points="97.3,334.6 138.8,334.8 155.7,336 164.1,336.5 180,337.2 188.5,337.2 196.9,338 205.4,340.2 213.8,342.4 222.3,347 230.8,350 235.8,355.5 240.9,359.7 246,366.5 248.5,373 250.2,380 253.3,386.1 254.8,395.2 256.3,405.4 257.8,415.5 259.4,425.7 260.4,435 262.6,446 264.2,457 265.3,468 265.9,474" fill="none" stroke="#1f77b4" stroke-width="1.9" stroke-linejoin="round" stroke-linecap="butt" />
<polyline points="97.3,334.6 138.8,334.6 147.2,336.5 155.7,339.4 164.1,341.9 172.6,344.5 179.4,348.7 188.5,352.1 193.5,355.5 200.3,358 207.1,361 215.5,363.9 222.3,367.6 225.7,368.1 230.8,372.4 234,377 236,380 239.1,387.1 243.6,393.2 247.2,403.4 249.7,411.5 251.2,420.6 252.8,428.7 254.3,435 256.5,443.8 259.3,451.5 261.5,460.3 263.7,468 265.3,476.8 265.9,484" fill="none" stroke="#ff7f0e" stroke-width="1.9" stroke-linejoin="round" stroke-linecap="butt" />
<polyline points="107.5,336.8 115,335.6 138.8,335.5 152.3,337.7 160.8,340.2 169.2,341.9 176,345.3 180,345.6 185.1,347.3 188.5,350.4 191.8,357.1 195.2,369 197.8,380.8 200.3,394.4 201.3,400 202,408.5 202.3,421.2 202.6,433.8 203.4,435.5 208.1,436.4 214,437.2 220,438.1 228.7,443.4 235.5,445.1 240,445.5 245.5,447.7 251,449.9 255.4,453.7 259.8,458.1 261.5,463.6 263.1,471.3 264.8,480.1 265.9,492.8" fill="none" stroke="#2ca02c" stroke-width="1.9" stroke-linejoin="round" stroke-linecap="butt" />
<polyline points="97.3,334.3 115.1,334.3 116.8,340.2 118.5,356.3 121,358.8 123.5,365.6 125.2,374.1 126.9,384.2 128.3,390.1 131.1,389.3 133.7,394.4 136.2,399.5 138.8,397.8 142.1,403.7 147.2,407.1 152.3,409.6 160.8,409.1 167.5,411.3 170,412.3 174.2,414 177.6,415.7 181,414.4 184.4,414 187.8,416.5 192,418.2 195.4,420.7 198.8,423.7 201.3,427.1 203.8,430 205.5,433.8 207.2,438.1 209.2,445.1 211.3,450.2 213,456.9 216,462.8 217.3,468.8 219.4,472.1 221.9,478.9 224.5,483.1 228.7,486.1 232.9,486.5 237.1,486.1 243.1,486.1 245.6,487.8 250.7,488.6 255,489.1 256.1,490.6 260.2,492.1 263.2,493.6 265.4,494.9 265.5,500.9" fill="none" stroke="#d62728" stroke-width="1.9" stroke-linejoin="round" stroke-linecap="butt" />
<rect x="104.1" y="552.7" width="162.5" height="36.9" rx="1.5" fill="#fff" stroke="#111" stroke-width="1.4"/>
<line x1="107" y1="558.2" x2="119.5" y2="558.2" stroke="#1f77b4" stroke-width="2.0" />
<text x="122.7" y="561.1" font-size="8.3" fill="#222" text-anchor="start" >6B-C&amp;T on 6B-C&amp;T (AUC: 0.9474)</text>
<line x1="107" y1="566.6" x2="119.5" y2="566.6" stroke="#ff7f0e" stroke-width="2.0" />
<text x="122.7" y="569.5" font-size="8.3" fill="#222" text-anchor="start" >WG on WG (AUC: 0.8967)</text>
<line x1="107" y1="575" x2="119.5" y2="575" stroke="#2ca02c" stroke-width="2.0" />
<text x="122.7" y="577.9" font-size="8.3" fill="#222" text-anchor="start" >WG on 6B-C&amp;T (AUC: 0.8109)</text>
<line x1="107" y1="583.4" x2="119.5" y2="583.4" stroke="#d62728" stroke-width="2.0" />
<text x="122.7" y="586.3" font-size="8.3" fill="#222" text-anchor="start" >6B-C&amp;T on WG (AUC: 0.6433)</text>
<text x="341.2" y="309.2" font-size="16.5" fill="#000" text-anchor="start" font-weight="bold" >d</text>
<rect x="440.8" y="325.5" width="186" height="184.6" fill="none" stroke="#111" stroke-width="1.2"/>
<line x1="449" y1="510.1" x2="449" y2="513.3" stroke="#111" stroke-width="1" />
<text x="449" y="522.6" font-size="8.9" fill="#222" text-anchor="middle" >0.0</text>
<line x1="482.9" y1="510.1" x2="482.9" y2="513.3" stroke="#111" stroke-width="1" />
<text x="482.9" y="522.6" font-size="8.9" fill="#222" text-anchor="middle" >0.2</text>
<line x1="516.8" y1="510.1" x2="516.8" y2="513.3" stroke="#111" stroke-width="1" />
<text x="516.8" y="522.6" font-size="8.9" fill="#222" text-anchor="middle" >0.4</text>
<line x1="550.7" y1="510.1" x2="550.7" y2="513.3" stroke="#111" stroke-width="1" />
<text x="550.7" y="522.6" font-size="8.9" fill="#222" text-anchor="middle" >0.6</text>
<line x1="584.6" y1="510.1" x2="584.6" y2="513.3" stroke="#111" stroke-width="1" />
<text x="584.6" y="522.6" font-size="8.9" fill="#222" text-anchor="middle" >0.8</text>
<line x1="618.5" y1="510.1" x2="618.5" y2="513.3" stroke="#111" stroke-width="1" />
<text x="618.5" y="522.6" font-size="8.9" fill="#222" text-anchor="middle" >1.0</text>
<line x1="437.6" y1="501.7" x2="440.8" y2="501.7" stroke="#111" stroke-width="1" />
<text x="434.3" y="504.89" font-size="8.9" fill="#222" text-anchor="end" >0.0</text>
<line x1="437.6" y1="468.14" x2="440.8" y2="468.14" stroke="#111" stroke-width="1" />
<text x="434.3" y="471.33" font-size="8.9" fill="#222" text-anchor="end" >0.2</text>
<line x1="437.6" y1="434.58" x2="440.8" y2="434.58" stroke="#111" stroke-width="1" />
<text x="434.3" y="437.77" font-size="8.9" fill="#222" text-anchor="end" >0.4</text>
<line x1="437.6" y1="401.02" x2="440.8" y2="401.02" stroke="#111" stroke-width="1" />
<text x="434.3" y="404.21" font-size="8.9" fill="#222" text-anchor="end" >0.6</text>
<line x1="437.6" y1="367.46" x2="440.8" y2="367.46" stroke="#111" stroke-width="1" />
<text x="434.3" y="370.65" font-size="8.9" fill="#222" text-anchor="end" >0.8</text>
<line x1="437.6" y1="333.9" x2="440.8" y2="333.9" stroke="#111" stroke-width="1" />
<text x="434.3" y="337.09" font-size="8.9" fill="#222" text-anchor="end" >1.0</text>
<text x="533.3" y="533.6" font-size="8.85" fill="#222" text-anchor="middle" >False Positive Rate</text>
<text x="0" y="0" font-size="8.85" fill="#222" text-anchor="middle" transform="translate(417,417.4) rotate(-90)">True Positive Rate</text>
<polyline points="449,501.7 449.2,440 449.3,419.8 450.2,387.7 451.8,374.1 453.5,365.7 456.9,357.2 461.2,352.1 467.1,347.1 473.8,343.7 482.3,341.7 490.8,340.3 499.2,338.6 507.7,337.3 516.1,336.1 524.6,335.2 540,334.4 560,334 618.3,334" fill="none" stroke="#1f77b4" stroke-width="1.9" stroke-linejoin="round" stroke-linecap="butt" />
<polyline points="449,501.7 449.5,440 450.5,419.8 452.7,404.6 455.2,387.7 457.8,374.1 460.3,368.2 465.4,360.6 472.1,354.7 480.6,350.1 490.8,347.1 499.2,345 507.7,342.3 517.8,339.5 528,337.8 540,336.1 555,334.6 570,334 618.3,334" fill="none" stroke="#ff7f0e" stroke-width="1.9" stroke-linejoin="round" stroke-linecap="butt" />
<polyline points="449,501.7 449,482.3 449.6,439.5 451.1,420.7 452.1,410.5 454.1,405.4 458.2,401.3 463.3,399.8 468.4,397.8 475.5,396.8 479.6,396.8 483.6,396.6 487.1,390.4 491.8,379.7 495.4,375 500.1,369.1 503.7,363.1 507.2,357.2 512,351.3 515.5,347.2 521.4,343 527.3,339.5 533.3,337.7 540,336.5 550,335 563.8,333.9 580,333.9 618.5,333.9" fill="none" stroke="#2ca02c" stroke-width="1.9" stroke-linejoin="round" stroke-linecap="butt" />
<polyline points="448.9,502.3 448.9,484.6 449.5,480.8 451.4,475.1 454,470.6 456.5,459.2 460.9,447.8 462.3,439.5 463.8,432.8 466.3,425.7 468.4,420.7 469.4,414.6 471.9,407.4 475.5,402.4 479.6,398.3 483.6,395.2 487.7,392.2 491.7,390.7 494.8,389.1 499.2,387.7 507.7,384.3 514.5,381.8 519.5,381.3 528,378.4 530,378.4 536.8,376.3 543.5,373.8 550.3,370.4 554.5,365.7 557.9,361.5 562.1,355.9 568.9,352.1 574,348.4 579.1,344.5 585.8,340.3 591.8,336.4 597.7,334.4 618.5,333.9" fill="none" stroke="#d62728" stroke-width="1.9" stroke-linejoin="round" stroke-linecap="butt" />
<rect x="455.2" y="552" width="163.8" height="37" rx="1.5" fill="#fff" stroke="#111" stroke-width="1.4"/>
<line x1="458" y1="557.5" x2="471" y2="557.5" stroke="#1f77b4" stroke-width="2.0" />
<text x="473.9" y="560.4" font-size="8.3" fill="#222" text-anchor="start" >6B-C&amp;T on 6B-C&amp;T (AUC: 0.9662)</text>
<line x1="458" y1="565.95" x2="471" y2="565.95" stroke="#ff7f0e" stroke-width="2.0" />
<text x="473.9" y="568.85" font-size="8.3" fill="#222" text-anchor="start" >WG on WG (AUC: 0.9352)</text>
<line x1="458" y1="574.4" x2="471" y2="574.4" stroke="#2ca02c" stroke-width="2.0" />
<text x="473.9" y="577.3" font-size="8.3" fill="#222" text-anchor="start" >WG on 6B-C&amp;T (AUC: 0.8663)</text>
<line x1="458" y1="582.85" x2="471" y2="582.85" stroke="#d62728" stroke-width="2.0" />
<text x="473.9" y="585.75" font-size="8.3" fill="#222" text-anchor="start" >6B-C&amp;T on WG (AUC: 0.7407)</text>
</svg>
</body></html>
